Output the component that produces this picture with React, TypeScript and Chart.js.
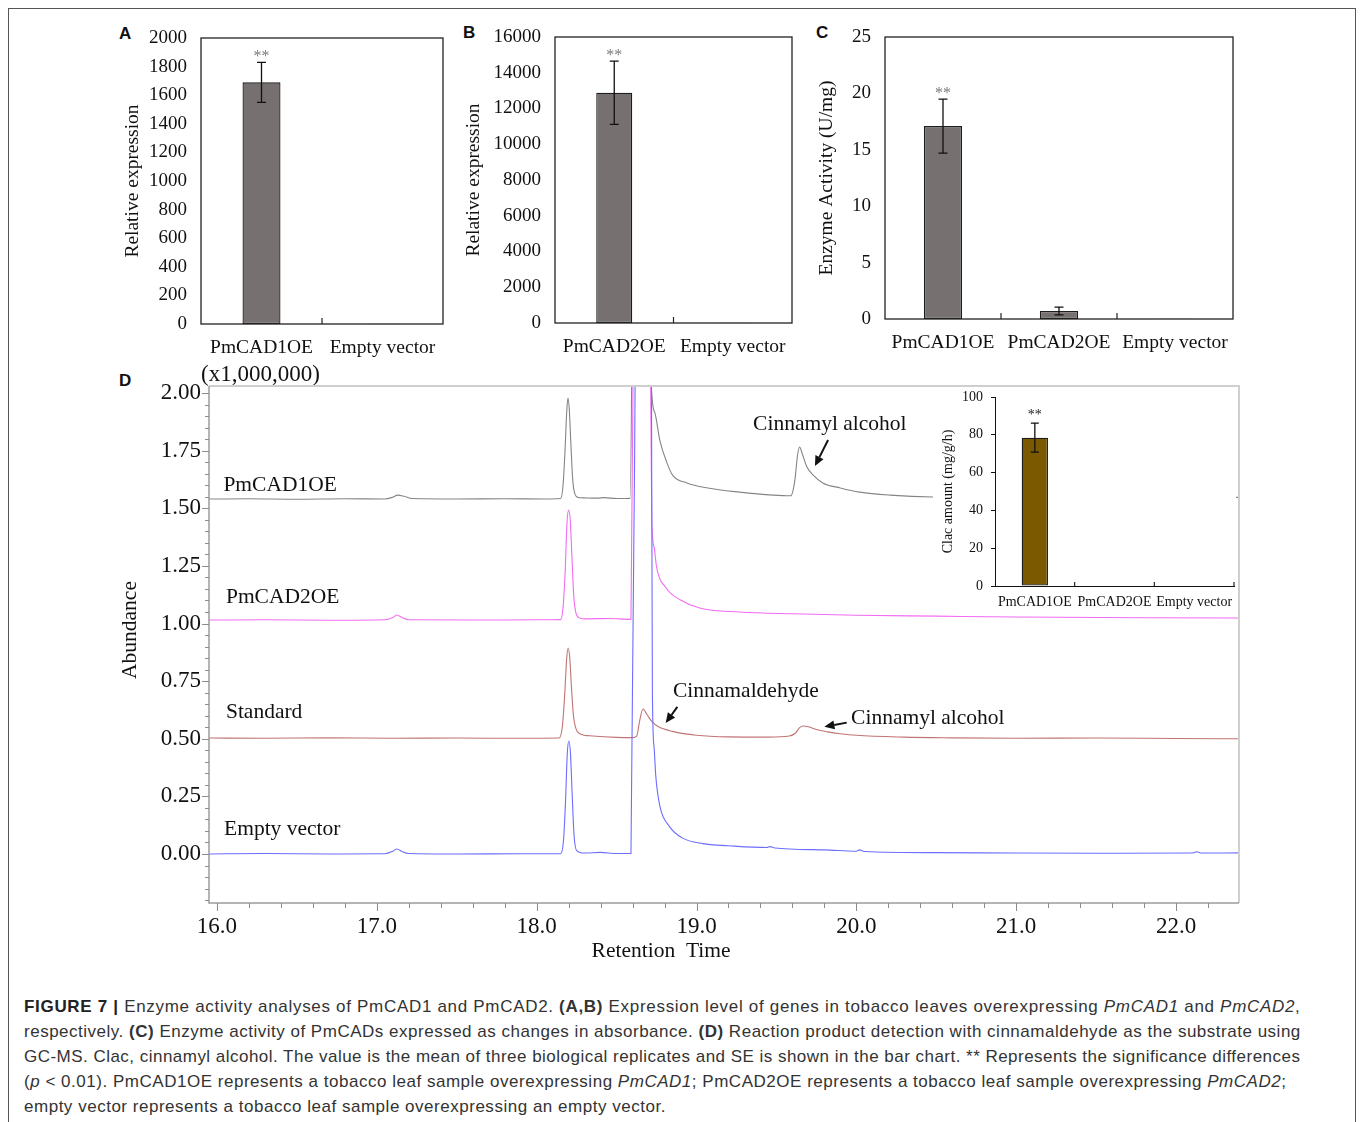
import React, { useEffect, useRef } from "react";
import { Chart, registerables } from "chart.js";

Chart.register(...registerables);

const SERIF = '"Liberation Serif", "Times New Roman", serif';
const SANS = '"Liberation Sans", Arial, sans-serif';

// ---------- Panel A ----------
const aCategories = ["PmCAD1OE", "Empty vector"];
const aValues = [1690, 2];
const aErrors = [140, 0];
const aSignif = ["**", ""];

// ---------- Panel B ----------
const bCategories = ["PmCAD2OE", "Empty vector"];
const bValues = [12880, 15];
const bErrors = [1770, 0];
const bSignif = ["**", ""];

// ---------- Panel C ----------
const cCategories = ["PmCAD1OE", "PmCAD2OE", "Empty vector"];
const cValues = [17.1, 0.71, 0.02];
const cErrors = [2.4, 0.35, 0];
const cSignif = ["**", "", ""];

// ---------- Panel D inset ----------
const insetCategories = ["PmCAD1OE", "PmCAD2OE", "Empty vector"];
const insetValues = [78.5, 0, 0];
const insetErrors = [7.7, 0, 0];
const insetSignif = ["**", "", ""];

// ---------- Panel D chromatograms (retention time, abundance x1,000,000) ----------
const cad1Time = [15.95, 16.2, 16.5, 16.8, 17.05, 17.1, 17.13, 17.17, 17.22, 17.5, 17.8, 18.05, 18.15, 18.165, 18.178, 18.188, 18.196, 18.204, 18.214, 18.226, 18.24, 18.26, 18.3, 18.38, 18.42, 18.5, 18.585, 18.6, 18.62, 18.69, 18.716, 18.74, 18.77, 18.816, 18.85, 18.94, 19.07, 19.27, 19.48, 19.59, 19.615, 19.632, 19.645, 19.66, 19.69, 19.73, 19.79, 19.9, 20.02, 20.21, 20.48, 20.8, 21.2, 21.8, 22.4];
const cad1Abund = [1.540, 1.541, 1.539, 1.541, 1.540, 1.548, 1.557, 1.552, 1.542, 1.540, 1.541, 1.540, 1.542, 1.6, 1.76, 1.92, 1.978, 1.93, 1.78, 1.62, 1.56, 1.547, 1.545, 1.544, 1.546, 1.542, 1.543, 2.5, 4.0, 4.0, 2.05, 1.913, 1.796, 1.696, 1.644, 1.61, 1.588, 1.570, 1.557, 1.554, 1.62, 1.73, 1.766, 1.74, 1.68, 1.644, 1.61, 1.588, 1.57, 1.557, 1.549, 1.548, 1.547, 1.548, 1.547];

const cad2Time = [15.95, 16.3, 16.7, 17.05, 17.1, 17.125, 17.16, 17.2, 17.6, 18.0, 18.15, 18.165, 18.178, 18.19, 18.2, 18.21, 18.22, 18.232, 18.248, 18.27, 18.3, 18.45, 18.59, 18.605, 18.625, 18.69, 18.713, 18.72, 18.735, 18.75, 18.81, 18.9, 19.02, 19.27, 19.6, 20.0, 20.5, 21.0, 21.8, 22.4];
const cad2Abund = [1.015, 1.016, 1.014, 1.016, 1.026, 1.037, 1.025, 1.016, 1.015, 1.016, 1.017, 1.07, 1.22, 1.44, 1.492, 1.45, 1.3, 1.12, 1.04, 1.024, 1.02, 1.022, 1.018, 2.3, 5.0, 5.0, 2.1, 1.45, 1.33, 1.246, 1.154, 1.102, 1.067, 1.05, 1.042, 1.036, 1.032, 1.028, 1.025, 1.024];

const stdTime = [15.95, 16.3, 16.7, 17.1, 17.5, 17.9, 18.14, 18.162, 18.176, 18.188, 18.197, 18.207, 18.218, 18.23, 18.245, 18.27, 18.35, 18.5, 18.6, 18.625, 18.645, 18.665, 18.69, 18.72, 18.76, 18.85, 19.0, 19.2, 19.45, 19.58, 19.62, 19.645, 19.67, 19.7, 19.75, 19.82, 19.9, 20.0, 20.3, 20.6, 21.0, 21.5, 22.0, 22.4];
const stdAbund = [0.503, 0.502, 0.504, 0.502, 0.503, 0.502, 0.503, 0.56, 0.70, 0.85, 0.894, 0.85, 0.72, 0.6, 0.545, 0.522, 0.512, 0.506, 0.505, 0.51, 0.58, 0.629, 0.605, 0.575, 0.553, 0.532, 0.515, 0.508, 0.507, 0.512, 0.525, 0.548, 0.555, 0.552, 0.54, 0.53, 0.522, 0.515, 0.507, 0.504, 0.502, 0.503, 0.501, 0.500];

const evTime = [15.95, 16.3, 16.7, 17.05, 17.1, 17.125, 17.16, 17.2, 17.5, 17.9, 18.15, 18.168, 18.18, 18.192, 18.202, 18.212, 18.222, 18.234, 18.25, 18.3, 18.4, 18.5, 18.59, 18.62, 18.64, 18.7, 18.718, 18.724, 18.735, 18.745, 18.77, 18.83, 18.91, 19.04, 19.2, 19.44, 19.46, 19.49, 19.8, 20.0, 20.02, 20.05, 20.5, 21.0, 21.5, 22.1, 22.13, 22.16, 22.4];
const evAbund = [0.0, 0.002, 0.0, 0.001, 0.012, 0.022, 0.01, 0.002, 0.0, 0.001, 0.001, 0.06, 0.22, 0.44, 0.49, 0.43, 0.26, 0.08, 0.015, 0.004, 0.007, 0.002, 0.002, 2.5, 5.0, 5.0, 2.1, 0.7, 0.46, 0.34, 0.21, 0.12, 0.07, 0.045, 0.036, 0.028, 0.032, 0.026, 0.018, 0.012, 0.018, 0.011, 0.006, 0.004, 0.003, 0.004, 0.01, 0.004, 0.005];

const dXMin = 15.95;
const dXMax = 22.394;
const dYMin = -0.2126;
const dYMax = 2.0304;

const traceNames = ["Empty vector", "Standard", "PmCAD2OE", "PmCAD1OE"];
const traceColors = ["#6d6dff", "#c27474", "#f26cf2", "#858585"];

// annotation texts in data coordinates
const dLabels = [
  { text: "PmCAD1OE", t: 16.04, v: 1.601 },
  { text: "PmCAD2OE", t: 16.056, v: 1.115 },
  { text: "Standard", t: 16.056, v: 0.616 },
  { text: "Empty vector", t: 16.044, v: 0.108 },
  { text: "Cinnamyl alcohol", t: 19.354, v: 1.866 },
  { text: "Cinnamaldehyde", t: 18.853, v: 0.707 },
  { text: "Cinnamyl alcohol", t: 19.967, v: 0.59 },
];
const dArrows = [
  { t1: 19.823, v1: 1.796, t2: 19.741, v2: 1.683 },
  { t1: 18.88, v1: 0.638, t2: 18.807, v2: 0.568 },
  { t1: 19.94, v1: 0.57, t2: 19.8, v2: 0.552 },
];

function isMultiple(v: number, step: number) {
  const r = v / step;
  return Math.abs(r - Math.round(r)) < 1e-6;
}

function makeBarPlugin(o: any) {
  return {
    id: "barExtras",
    afterDraw(chart: any) {
      const { ctx, chartArea: ca, scales } = chart;
      const x = scales.x;
      const y = scales.y;
      ctx.save();
      ctx.lineCap = "butt";
      o.values.forEach((v: number, i: number) => {
        const e = o.errors[i];
        const px = x.getPixelForValue(i);
        if (e) {
          const top = y.getPixelForValue(v + e);
          const bot = y.getPixelForValue(v - e);
          ctx.strokeStyle = "#111";
          ctx.lineWidth = 1.3;
          ctx.beginPath();
          ctx.moveTo(px, top);
          ctx.lineTo(px, bot);
          ctx.moveTo(px - o.cap, top);
          ctx.lineTo(px + o.cap, top);
          ctx.moveTo(px - o.cap, bot);
          ctx.lineTo(px + o.cap, bot);
          ctx.stroke();
          if (o.signif[i]) {
            ctx.fillStyle = o.sigColor;
            ctx.font = `${o.sigSize}px ${SERIF}`;
            ctx.textAlign = "center";
            ctx.textBaseline = "alphabetic";
            ctx.fillText(o.signif[i], px, top + o.sigOffset);
          }
        }
      });
      if (o.frame) {
        ctx.strokeStyle = "#222";
        ctx.lineWidth = 1.3;
        ctx.strokeRect(ca.left, ca.top, ca.right - ca.left, ca.bottom - ca.top);
      }
      ctx.strokeStyle = "#222";
      ctx.lineWidth = 1.2;
      const n = o.values.length;
      const last = o.tickAtEnd ? n : n - 1;
      for (let i = 1; i <= last; i++) {
        let bx;
        if (i < n) bx = (x.getPixelForValue(i - 1) + x.getPixelForValue(i)) / 2;
        else bx = ca.right;
        ctx.beginPath();
        ctx.moveTo(bx, ca.bottom);
        ctx.lineTo(bx, ca.bottom - o.tickLen);
        ctx.stroke();
      }
      ctx.restore();
    },
  };
}

function barConfig(o: any) {
  return {
    type: "bar",
    data: {
      labels: o.categories,
      datasets: [
        {
          data: o.values,
          backgroundColor: o.color,
          borderColor: "#1d1d1d",
          borderWidth: o.borderWidth,
          borderSkipped: false,
          barPercentage: o.barPct,
          categoryPercentage: 1,
        },
      ],
    },
    options: {
      responsive: false,
      animation: false,
      devicePixelRatio: 1,
      layout: { padding: { left: 0, top: o.padTop, right: o.padRight, bottom: 0 } },
      plugins: { legend: { display: false }, tooltip: { enabled: false }, title: { display: false } },
      scales: {
        x: {
          type: "category",
          offset: true,
          grid: { display: false, drawTicks: false },
          border: { display: o.axisBorders, color: "#111", width: 1 },
          ticks: {
            font: { family: SERIF, size: o.catSize },
            color: "#111",
            padding: o.catPad,
            maxRotation: 0,
            autoSkip: false,
          },
          afterFit: (s: any) => {
            s.height = o.xHeight;
            s.paddingLeft = 0;
            s.paddingRight = 0;
          },
        },
        y: {
          min: 0,
          max: o.yMax,
          grid: o.yTickMarks
            ? { display: true, drawOnChartArea: false, drawTicks: true, tickLength: 4, color: "#111" }
            : { display: false, drawTicks: false },
          border: { display: o.axisBorders, color: "#111", width: 1 },
          ticks: {
            stepSize: o.yStep,
            font: { family: SERIF, size: o.tickSize },
            color: "#111",
            padding: o.tickPad,
            callback: (v: any) => String(v),
          },
          title: {
            display: true,
            text: o.yTitle,
            font: { family: SERIF, size: o.titleSize },
            color: "#111",
            padding: { top: o.titlePad, bottom: 0 },
          },
          afterFit: (s: any) => {
            s.width = o.yWidth;
            s.paddingTop = 0;
            s.paddingBottom = 0;
          },
        },
      },
    },
    plugins: [makeBarPlugin(o)],
  };
}

function drawArrow(ctx: any, x1: number, y1: number, x2: number, y2: number) {
  const ang = Math.atan2(y2 - y1, x2 - x1);
  const hl = 10;
  const hw = 4.5;
  const bx = x2 - hl * Math.cos(ang);
  const by = y2 - hl * Math.sin(ang);
  ctx.beginPath();
  ctx.moveTo(x1, y1);
  ctx.lineTo(bx, by);
  ctx.stroke();
  ctx.beginPath();
  ctx.moveTo(x2, y2);
  ctx.lineTo(bx + hw * Math.sin(ang), by - hw * Math.cos(ang));
  ctx.lineTo(bx - hw * Math.sin(ang), by + hw * Math.cos(ang));
  ctx.closePath();
  ctx.fill();
}

const chromPlugin = {
  id: "chromExtras",
  afterDraw(chart: any) {
    const { ctx, chartArea: ca, scales } = chart;
    const x = scales.x;
    const y = scales.y;
    ctx.save();
    ctx.strokeStyle = "#cfcfcf";
    ctx.lineWidth = 2;
    ctx.beginPath();
    ctx.moveTo(ca.left, ca.top);
    ctx.lineTo(ca.right, ca.top);
    ctx.lineTo(ca.right, ca.bottom);
    ctx.stroke();
    ctx.strokeStyle = "#9c9c9c";
    ctx.lineWidth = 1.5;
    ctx.beginPath();
    ctx.moveTo(ca.left, ca.top);
    ctx.lineTo(ca.left, ca.bottom);
    ctx.lineTo(ca.right, ca.bottom);
    ctx.stroke();
    ctx.lineWidth = 1;
    ctx.strokeStyle = "#8c8c8c";
    for (let k = -4; k <= 40; k++) {
      const v = k * 0.05;
      if (v < dYMin || v > dYMax) continue;
      const py = Math.round(y.getPixelForValue(v)) + 0.5;
      const len = k % 5 === 0 ? 7 : 4;
      ctx.beginPath();
      ctx.moveTo(ca.left - len, py);
      ctx.lineTo(ca.left, py);
      ctx.stroke();
    }
    for (let k = 80; k <= 111; k++) {
      const t = k * 0.2;
      if (t < dXMin || t > dXMax) continue;
      const px = Math.round(x.getPixelForValue(t)) + 0.5;
      const len = k % 5 === 0 ? 8 : 5;
      ctx.beginPath();
      ctx.moveTo(px, ca.bottom);
      ctx.lineTo(px, ca.bottom + len);
      ctx.stroke();
    }
    ctx.fillStyle = "#111";
    ctx.font = `21.5px ${SERIF}`;
    ctx.textAlign = "left";
    ctx.textBaseline = "middle";
    dLabels.forEach((l) => {
      ctx.fillText(l.text, x.getPixelForValue(l.t), y.getPixelForValue(l.v));
    });
    ctx.strokeStyle = "#111";
    ctx.lineWidth = 2;
    dArrows.forEach((a) => {
      drawArrow(ctx, x.getPixelForValue(a.t1), y.getPixelForValue(a.v1), x.getPixelForValue(a.t2), y.getPixelForValue(a.v2));
    });
    ctx.fillStyle = "#111";
    ctx.font = `21.5px ${SERIF}`;
    ctx.textAlign = "center";
    ctx.textBaseline = "middle";
    ctx.fillText("Retention  Time", x.getPixelForValue(18.778), ca.bottom + 48);
    ctx.save();
    ctx.translate(ca.left - 79, ca.top + 244);
    ctx.rotate(-Math.PI / 2);
    ctx.fillText("Abundance", 0, 0);
    ctx.restore();
    ctx.restore();
  },
};

function chromConfig() {
  const series = [
    { t: evTime, v: evAbund },
    { t: stdTime, v: stdAbund },
    { t: cad2Time, v: cad2Abund },
    { t: cad1Time, v: cad1Abund },
  ];
  return {
    type: "line",
    data: {
      datasets: series.map((s, i) => ({
        label: traceNames[i],
        data: s.t.map((t, j) => ({ x: t, y: s.v[j] })),
        borderColor: traceColors[i],
        borderWidth: 1.1,
        pointRadius: 0,
        cubicInterpolationMode: "monotone",
        fill: false,
      })),
    },
    options: {
      responsive: false,
      animation: false,
      devicePixelRatio: 1,
      layout: { padding: { left: 0, top: 26, right: 21, bottom: 0 } },
      plugins: { legend: { display: false }, tooltip: { enabled: false } },
      scales: {
        x: {
          type: "linear",
          min: dXMin,
          max: dXMax,
          grid: { display: false, drawTicks: false },
          border: { display: false },
          ticks: {
            stepSize: 0.2,
            includeBounds: false,
            autoSkip: false,
            maxRotation: 0,
            padding: 10,
            color: "#111",
            font: { family: SERIF, size: 23 },
            callback: (v: any) => (isMultiple(Number(v), 1) ? Math.round(Number(v)).toFixed(1) : ""),
          },
          afterFit: (s: any) => {
            s.height = 67;
            s.paddingLeft = 0;
            s.paddingRight = 0;
          },
        },
        y: {
          type: "linear",
          min: dYMin,
          max: dYMax,
          grid: { display: false, drawTicks: false },
          border: { display: false },
          ticks: {
            stepSize: 0.05,
            includeBounds: false,
            autoSkip: false,
            padding: 8,
            color: "#111",
            font: { family: SERIF, size: 23 },
            callback: (v: any) => {
              const n = Number(v);
              return isMultiple(n, 0.25) && n > -0.01 ? (Math.round(n * 100) / 100).toFixed(2) : "";
            },
          },
          afterFit: (s: any) => {
            s.width = 109;
            s.paddingTop = 0;
            s.paddingBottom = 0;
          },
        },
      },
    },
    plugins: [chromPlugin],
  };
}

function ChartBox(props: { left: number; top: number; width: number; height: number; make: () => any; bg?: string }) {
  const ref = useRef<HTMLCanvasElement | null>(null);
  useEffect(() => {
    if (!ref.current) return;
    const chart = new Chart(ref.current, props.make());
    return () => chart.destroy();
  }, []);
  return (
    <canvas
      ref={ref}
      width={props.width}
      height={props.height}
      style={{
        position: "absolute",
        left: props.left,
        top: props.top,
        width: props.width,
        height: props.height,
        background: props.bg || "transparent",
      }}
    />
  );
}

const commonBar = {
  color: "#767070",
  borderWidth: 1.3,
  frame: true,
  axisBorders: false,
  yTickMarks: false,
  tickAtEnd: false,
  tickLen: 6,
  cap: 4.5,
  sigColor: "#7a7a7a",
  sigSize: 16,
  sigOffset: -1,
  catSize: 19.5,
  catPad: 12,
  tickSize: 19,
  tickPad: 14,
  titleSize: 19.5,
};

const panelLetter = (t: string, left: number, top: number) => (
  <div
    style={{
      position: "absolute",
      left,
      top,
      font: `bold 17px ${SANS}`,
      color: "#111",
      lineHeight: "18px",
    }}
  >
    {t}
  </div>
);

const capLine = (ls: number, children: any) => (
  <div style={{ letterSpacing: `${ls}px`, height: 25, whiteSpace: "nowrap" }}>{children}</div>
);

export default function App() {
  const captionStyle: any = {
    position: "absolute",
    left: 24,
    top: 994,
    font: `17px ${SANS}`,
    lineHeight: "25px",
    color: "#333",
    whiteSpace: "nowrap",
  };
  return (
    <div style={{ position: "absolute", left: 0, top: 0, width: 1360, height: 1122, overflow: "hidden", background: "#fff" }}>
      <div
        style={{
          position: "absolute",
          left: 8,
          top: 8,
          width: 1348,
          height: 1140,
          border: "1px solid #555",
          boxSizing: "border-box",
        }}
      />
      {panelLetter("A", 119, 25)}
      {panelLetter("B", 463, 24)}
      {panelLetter("C", 816, 24)}
      {panelLetter("D", 119, 372)}
      <ChartBox
        left={100}
        top={20}
        width={360}
        height={370}
        make={() =>
          barConfig({
            ...commonBar,
            categories: aCategories,
            values: aValues,
            errors: aErrors,
            signif: aSignif,
            yMax: 2000,
            yStep: 200,
            yTitle: "Relative expression",
            barPct: 0.314,
            padTop: 18,
            padRight: 17,
            xHeight: 66,
            yWidth: 101,
            titlePad: 21,
          })
        }
      />
      <ChartBox
        left={440}
        top={20}
        width={360}
        height={370}
        make={() =>
          barConfig({
            ...commonBar,
            categories: bCategories,
            values: bValues,
            errors: bErrors,
            signif: bSignif,
            yMax: 16000,
            yStep: 2000,
            yTitle: "Relative expression",
            barPct: 0.304,
            padTop: 17,
            padRight: 8,
            xHeight: 67,
            yWidth: 115,
            titlePad: 22,
          })
        }
      />
      <ChartBox
        left={780}
        top={20}
        width={470}
        height={370}
        make={() =>
          barConfig({
            ...commonBar,
            categories: cCategories,
            values: cValues,
            errors: cErrors,
            signif: cSignif,
            yMax: 25,
            yStep: 5,
            yTitle: "Enzyme Activity (U/mg)",
            barPct: 0.33,
            padTop: 17,
            padRight: 17,
            xHeight: 71,
            yWidth: 105,
            titlePad: 35,
          })
        }
      />
      <div
        style={{
          position: "absolute",
          left: 201,
          top: 361,
          font: `23px ${SERIF}`,
          lineHeight: "26px",
          color: "#111",
          whiteSpace: "nowrap",
        }}
      >
        (x1,000,000)
      </div>
      <ChartBox left={100} top={360} width={1160} height={610} make={chromConfig} />
      <ChartBox
        left={933}
        top={388}
        width={303}
        height={224}
        bg="#ffffff"
        make={() =>
          barConfig({
            ...commonBar,
            color: "#7b5900",
            frame: false,
            axisBorders: true,
            yTickMarks: true,
            tickAtEnd: true,
            tickLen: 4,
            cap: 4,
            sigColor: "#222",
            sigSize: 14,
            sigOffset: -4,
            catSize: 14,
            catPad: 8,
            tickSize: 14,
            tickPad: 8,
            titleSize: 14,
            categories: insetCategories,
            values: insetValues,
            errors: insetErrors,
            signif: insetSignif,
            yMax: 100,
            yStep: 20,
            yTitle: "Clac amount (mg/g/h)",
            barPct: 0.33,
            padTop: 9,
            padRight: 2,
            xHeight: 26,
            yWidth: 62,
            titlePad: 6.6,
          })
        }
      />
      <div style={captionStyle}>
        {capLine(
          0.69,
          <>
            <b style={{ color: "#222" }}>FIGURE 7 |</b> Enzyme activity analyses of PmCAD1 and PmCAD2. <b>(A,B)</b> Expression level of genes in tobacco leaves overexpressing <i>PmCAD1</i> and <i>PmCAD2</i>,
          </>
        )}
        {capLine(
          0.51,
          <>
            respectively. <b>(C)</b> Enzyme activity of PmCADs expressed as changes in absorbance. <b>(D)</b> Reaction product detection with cinnamaldehyde as the substrate using
          </>
        )}
        {capLine(
          0.475,
          <>GC-MS. Clac, cinnamyl alcohol. The value is the mean of three biological replicates and SE is shown in the bar chart. ** Represents the significance differences</>
        )}
        {capLine(
          0.52,
          <>
            (<i>p</i> &lt; 0.01). PmCAD1OE represents a tobacco leaf sample overexpressing <i>PmCAD1</i>; PmCAD2OE represents a tobacco leaf sample overexpressing <i>PmCAD2</i>;
          </>
        )}
        {capLine(0.52, <>empty vector represents a tobacco leaf sample overexpressing an empty vector.</>)}
      </div>
    </div>
  );
}
